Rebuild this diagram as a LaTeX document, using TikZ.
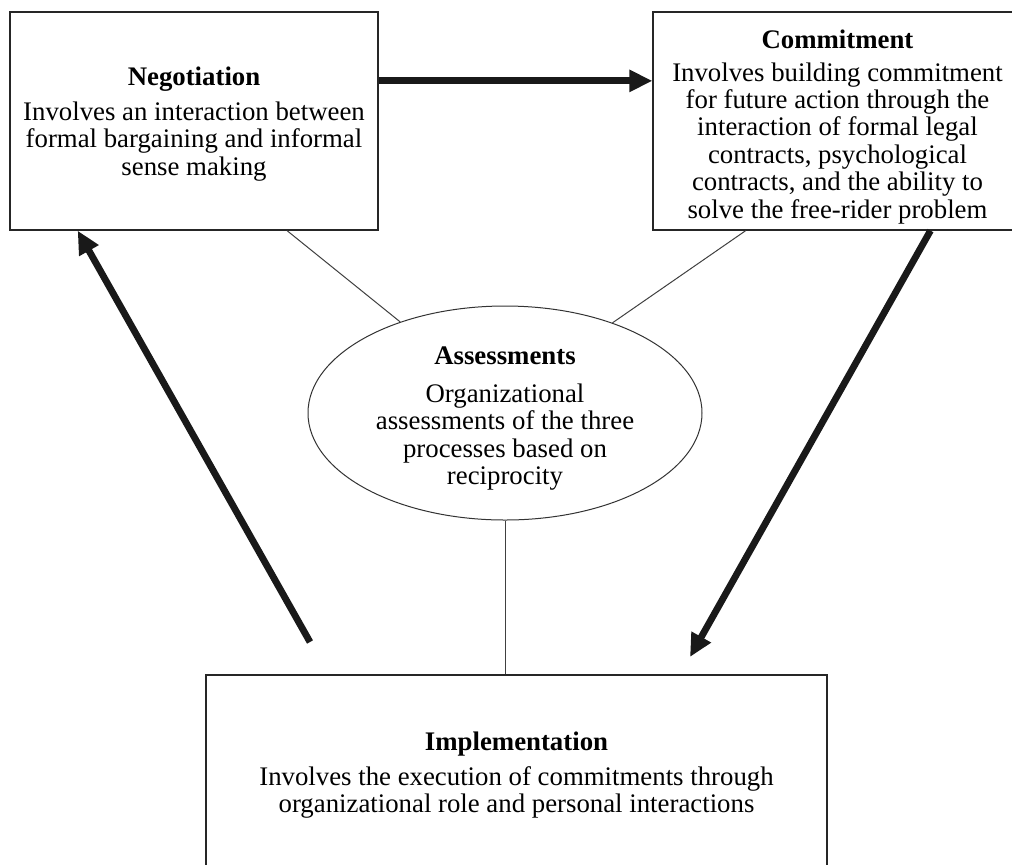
\documentclass[tikz,border=0pt]{standalone}
\usepackage{fontspec}
\setmainfont{Liberation Serif}
\usetikzlibrary{arrows.meta,shapes.geometric,calc}
\newcommand\diagfont{\fontsize{13.4}{13.7}\selectfont}
\begin{document}
\begin{tikzpicture}[x=0.5pt,y=-0.5pt,
  box/.style={draw=black!85,line width=0.65pt,rectangle,inner sep=0pt},
  oval/.style={draw=black!80,line width=0.5pt,ellipse,inner sep=0pt},
  txt/.style={inner sep=0pt,align=center,font=\diagfont,text=black},
  link/.style={draw=black!75,line width=0.5pt},
  bigarrow/.style={draw=black!90,line width=3.4pt,-{Triangle[length=11.5pt,width=10.5pt]}}]
\clip (0,0) rectangle (1012,864);
\fill[white] (0,0) rectangle (1012,864);

% the four process shapes
\node[box,minimum width=184pt,minimum height=109pt] (neg) at (194,121) {};
\node[box,minimum width=184.5pt,minimum height=109pt] (com) at (837.5,121) {};
\node[oval,minimum width=197pt,minimum height=107pt] (ass) at (505,413) {};
\node[box,minimum width=310.5pt,minimum height=96.5pt] (imp) at (516.5,771.5) {};

% their texts
\node[txt] (negtext) at ($(neg.center)+(0,3)$)
  {\textbf{Negotiation}\\[3.5pt]
   Involves an interaction between\\
   formal bargaining and informal\\
   sense making};
\node[txt] (comtext) at ($(com.center)+(0,6)$)
  {\textbf{Commitment}\\[2.5pt]
   Involves building commitment\\
   for future action through the\\
   interaction of formal legal\\
   contracts, psychological\\
   contracts, and the ability to\\
   solve the free-rider problem};
\node[txt] (asstext) at ($(ass.center)+(0,5.5)$)
  {\textbf{Assessments}\\[5.5pt]
   Organizational\\
   assessments of the three\\
   processes based on\\
   reciprocity};
\node[txt] (imptext) at ($(imp.center)+(0,3.5)$)
  {\textbf{Implementation}\\[4pt]
   Involves the execution of commitments through\\
   organizational role and personal interactions};

% thin links to the assessment hub
\draw[link] ($(neg.south west)!0.752!(neg.south east)$) -- (ass.139.6);
\draw[link] ($(com.south west)!0.252!(com.south east)$) -- (ass.40.4);
\draw[link] (ass.south) -- (ass.south |- imp.north);

% the process cycle
\coordinate (a1) at ($(neg.north east)!0.317!(neg.south east)$);
\draw[bigarrow] (a1) -- (a1 -| com.west);
\coordinate (s2) at (310,642);
\draw[bigarrow] (s2) -- ($(neg.south west)!0.185!(neg.south east)$);
\coordinate (e3) at (690,657);
\draw[bigarrow] ($(com.south west)!0.751!(com.south east)$) -- (e3);
\end{tikzpicture}
\end{document}
